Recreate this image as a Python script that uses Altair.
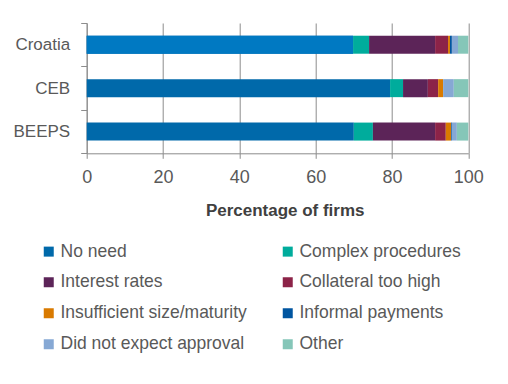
import altair as alt
import pandas as pd

regions = ["Croatia", "CEB", "BEEPS"]
categories = ["No need", "Complex procedures", "Interest rates", "Collateral too high",
              "Insufficient size/maturity", "Informal payments", "Did not expect approval", "Other"]
colors = ["#0069AA", "#00AC9C", "#5C2458", "#8C2348", "#D97A00", "#0055A0", "#86A8D4", "#85C6B8"]
croatia_no_need_color = "#0079C2"

croatia = [69.8, 4.2, 17.3, 3.4, 0.5, 0.5, 1.6, 2.7]
ceb = [79.5, 3.4, 6.5, 2.7, 1.3, 0.0, 2.8, 3.8]
beeps = [70.0, 5.0, 16.3, 2.8, 1.4, 0.2, 1.3, 3.0]
x_ticks = [0, 20, 40, 60, 80, 100]

rows = []
for r, vals in zip(regions, [croatia, ceb, beeps]):
    for i, (c, v) in enumerate(zip(categories, vals)):
        rows.append({"region": r, "category": c, "value": v, "idx": i})
df = pd.DataFrame(rows)

# legend fills column by column: reorder so it reads row by row
legend_order = [categories[i] for i in [0, 2, 4, 6, 1, 3, 5, 7]]
legend_colors = [colors[i] for i in [0, 2, 4, 6, 1, 3, 5, 7]]

FONT = "Liberation Sans"
AXIS_GRAY = "#8C8C8C"
TEXT = "#595959"

x_enc = alt.X("value:Q", stack="zero",
              scale=alt.Scale(domain=[0, 100], nice=False),
              axis=alt.Axis(values=x_ticks, title="Percentage of firms", grid=True,
                            gridColor=AXIS_GRAY, gridWidth=1, domainColor=AXIS_GRAY,
                            tickColor=AXIS_GRAY, tickSize=5, labelPadding=10, labelFlush=False,
                            labelFont=FONT, labelFontSize=18, labelColor=TEXT,
                            titleFont=FONT, titleFontSize=17, titleFontWeight="bold",
                            titleColor="#404040", titleX=198, titleY=57,
                            titleBaseline="middle", titleAnchor="start", titleAlign="center"))
y_enc = alt.Y("region:N", sort=regions,
              scale=alt.Scale(paddingInner=0, paddingOuter=0),
              axis=alt.Axis(title=None, tickBand="extent", domainColor=AXIS_GRAY,
                            tickColor=AXIS_GRAY, tickSize=6, labelPadding=11,
                            labelFont=FONT, labelFontSize=17, labelColor=TEXT, grid=False))

base = alt.Chart(df)

bars = base.mark_bar(size=18).encode(
    x=x_enc,
    y=y_enc,
    color=alt.Color("category:N", scale=alt.Scale(domain=legend_order, range=legend_colors),
                    legend=alt.Legend(title=None, orient="none", legendX=-46.7, legendY=219.5,
                                      columns=2, columnPadding=32, rowPadding=12,
                                      symbolType="square", symbolSize=100, symbolStrokeWidth=0,
                                      labelFont=FONT, labelFontSize=17.5, labelColor=TEXT,
                                      labelOffset=3, labelLimit=300, padding=0)),
    order=alt.Order("idx:Q"),
)

overlay = base.transform_filter(
    "datum.region == 'Croatia' && datum.category == 'No need'"
).mark_bar(size=18, color=croatia_no_need_color).encode(
    x=x_enc,
    y=y_enc,
)

chart = alt.layer(bars, overlay).properties(
    width=381.6, height=130.3,
    autosize=alt.AutoSizeParams(type="none"),
    padding={"left": 78.7, "top": 15, "right": 20, "bottom": 215},
).configure_view(stroke=None)

chart.save("out.html", embed_options={"renderer": "svg", "actions": False})
